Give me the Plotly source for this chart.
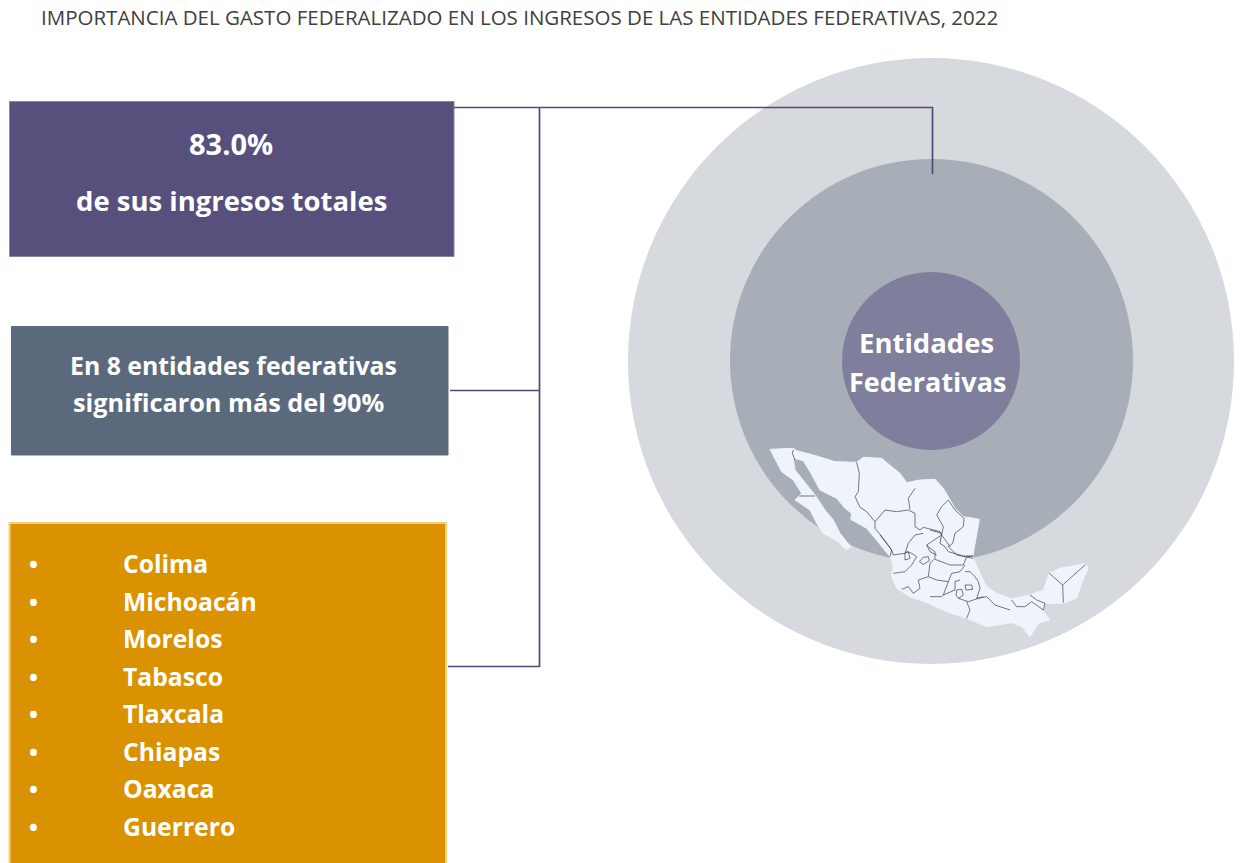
import plotly.graph_objects as go

W, H = 1241, 863
title = "IMPORTANCIA DEL GASTO FEDERALIZADO EN LOS INGRESOS DE LAS ENTIDADES FEDERATIVAS, 2022"
states = ["Colima", "Michoacán", "Morelos", "Tabasco", "Tlaxcala", "Chiapas", "Oaxaca", "Guerrero"]
state_y = [563, 601, 638, 676, 713, 751, 788, 826]
FONT = "Open Sans"

# Map, in crop units (origin 760,430, scale 3)
outline = [(30,58),(100,55),(110,62),(160,75),(225,95),(290,97),(310,82),(365,85),(395,110),(420,130),(440,158),(480,150),(525,148),(550,175),(585,235),(610,260),(658,268),(650,310),(640,370),(640,385),(655,420),(680,470),(710,490),(755,507),(810,495),(850,480),(868,430),(900,415),(970,402),(985,412),(965,460),(950,505),(910,520),(855,520),(850,545),(870,570),(835,580),(810,620),(785,590),(755,578),(680,590),(620,565),(560,545),(500,518),(450,500),(410,475),(395,440),(400,405),(390,380),(345,325),(320,295),(272,268),(275,250),(255,235),(230,205),(180,180),(160,140),(150,125),(130,92),(105,85),(100,85),(105,120),(140,165),(165,195),(195,240),(220,270),(240,310),(272,350),(258,360),(235,335),(190,310),(170,280),(150,240),(105,210),(125,190),(100,150),(65,125),(45,85),(30,58)]
borders = [
 [(100,60),(97,70),(105,90)],
 [(118,198),(125,198),(165,198)],
 [(290,97),(298,130),(295,185),(285,200),(300,232),(320,245),(345,275),(375,240),(410,245),(445,240),(465,250),(465,290),(480,300),(490,292),(540,305),(545,315),(570,350)],
 [(345,275),(345,295),(370,325),(395,360),(390,380)],
 [(465,175),(445,205),(450,238)],
 [(565,210),(545,230),(530,255),(550,290),(545,315)],
 [(565,210),(585,240),(612,265),(610,290),(585,310),(578,340),(565,350),(590,375),(640,385)],
 [(490,310),(465,315),(445,340),(435,370)],
 [(545,315),(500,345),(510,365),(530,375)],
 [(755,510),(770,530),(795,530),(815,515),(850,540),(855,520),(830,510),(810,495)],
 [(868,430),(908,465),(975,405)],
 [(908,465),(910,518)],
]
# Central states, in a closer crop (origin 880,530, scale 3)
central_borders = [
 [(0,15),(20,40),(35,60),(40,75),(75,70),(80,65),(95,70),(110,80),(95,105),(75,125),(40,130)],
 [(118,95),(130,82),(145,80),(148,92),(130,103),(118,95)],
 [(140,45),(150,55),(165,65),(165,85),(150,100),(145,140)],
 [(145,140),(115,150),(120,175),(100,190),(85,170),(65,178)],
 [(165,88),(210,105),(250,105),(260,80),(280,78)],
 [(145,140),(170,150),(205,155),(215,130),(240,125),(255,105)],
 [(190,195),(205,155)],
 [(150,200),(185,200),(190,195),(225,180),(225,155),(240,150)],
 [(230,180),(245,178),(250,195),(235,205),(228,195),(230,180)],
 [(255,165),(275,165),(278,178),(258,180),(255,165)],
 [(255,125),(270,125),(285,140),(295,155),(300,175),(290,205),(320,200),(345,225),(390,240)],
 [(235,205),(265,215),(280,210),(310,200)],
 [(260,215),(270,240),(260,265)],
 [(150,0),(185,10),(180,40),(195,50),(205,65),(250,78),(280,78)],
 [(75,70),(85,65),(90,85),(75,90),(75,70)],
]

def px(points, ox=760, oy=430):
    return [ox + p[0] / 3 for p in points], [oy + p[1] / 3 for p in points]

fig = go.Figure()

# Discs
discs = [(931, 361, 303, "#D6D9DD"), (931.5, 360.5, 201.5, "#A7AEB7"), (931, 361, 89, "#7F7E9C")]
shapes = [dict(type="circle", xref="x", yref="y", x0=x-r, x1=x+r, y0=y-r, y1=y+r,
               fillcolor=c, line=dict(width=0), layer="below") for x, y, r, c in discs]
# Boxes: x0, y0, x1, y1, fill, edge, edge width
boxes = [(9.5, 101.5, 454, 256.5, "#58507C", "#7F8A9E", 1), (11.5, 326.5, 448, 455, "#5A6A7C", "#5A6A7C", 1), (9.5, 523, 446, 880, "#DB9200", "#F8CF7C", 2)]
shapes += [dict(type="rect", xref="x", yref="y", x0=a, y0=b, x1=c, y1=d, fillcolor=f,
                line=dict(color=l, width=w), layer="below") for a, b, c, d, f, l, w in boxes]
fig.update_layout(shapes=shapes)

mx, my = px(outline)
fig.add_trace(go.Scatter(x=mx, y=my, mode="lines", fill="toself", fillcolor="#EFF4FB",
                         line=dict(color="#EFF4FB", width=1), hoverinfo="skip"))
for b in borders:
    bx, by = px(b)
    fig.add_trace(go.Scatter(x=bx, y=by, mode="lines", line=dict(color="#3A3F48", width=0.7), hoverinfo="skip"))
for b in central_borders:
    bx, by = px(b, 880, 530)
    fig.add_trace(go.Scatter(x=bx, y=by, mode="lines", line=dict(color="#3A3F48", width=0.7), hoverinfo="skip"))

# Connectors
connectors = [[(454,107.5),(932.5,107.5),(932.5,174)], [(539.5,107),(539.5,667)], [(450,390.5),(539,390.5)], [(448,666.5),(539,666.5)]]
for c in connectors:
    fig.add_trace(go.Scatter(x=[p[0] for p in c], y=[p[1] for p in c], mode="lines",
                             line=dict(color="#504A78", width=1.7), hoverinfo="skip"))

def label(x, y, text, size, anchor="center", color="white", weight=700):
    fig.add_annotation(x=x, y=y, text=text, showarrow=False, xanchor=anchor, yanchor="middle",
                       font=dict(family=FONT, size=size, color=color, weight=weight))

label(39, 17, title, 20.5, "left", "#404040", 400)
label(231, 143, "83.0%", 29)
label(231, 200, "de sus ingresos totales", 27.5)
label(233, 365, "En 8 entidades federativas", 24.8)
label(229, 402, "significaron más del 90%", 25.3)
label(926.5, 342, "Entidades", 27.5)
label(927, 381, "Federativas", 27)
for s, y in zip(states, state_y):
    label(33, y, "•", 24)
    label(121, y, s, 24.7, "left")

fig.update_layout(width=W, height=H, margin=dict(l=0, r=0, t=0, b=0), showlegend=False,
                  paper_bgcolor="white", plot_bgcolor="white",
                  xaxis=dict(range=[0, W], visible=False, fixedrange=True),
                  yaxis=dict(range=[H, 0], visible=False, fixedrange=True))
fig.write_html("out.html", config={"displayModeBar": False},
               post_script="document.body.style.margin='0';document.body.style.overflow='hidden';")
